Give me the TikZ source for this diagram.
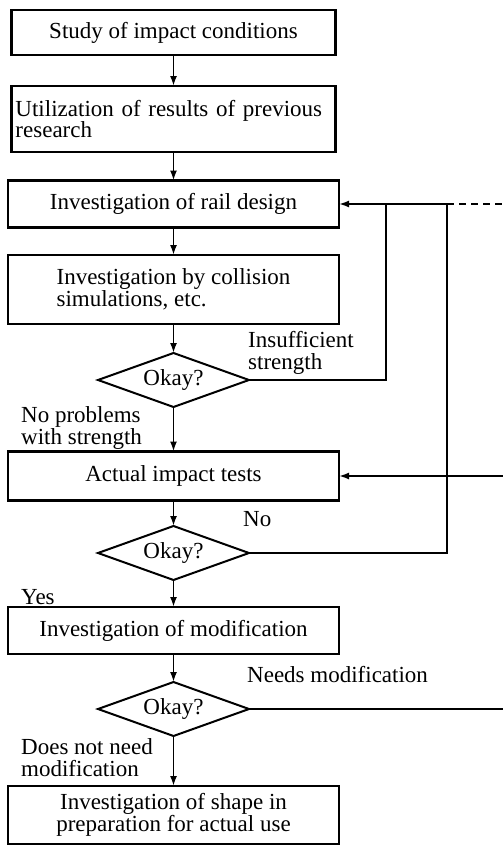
\documentclass[tikz,border=0pt]{standalone}
\usepackage{fontspec}
\setmainfont{Liberation Serif}
\usetikzlibrary{shapes.geometric,arrows.meta}
\begin{document}
\begin{tikzpicture}[x=1pt,y=-1pt,
  txt/.style={font=\fontsize{23}{22}\selectfont},
  box/.style={txt,draw,line width=2.2pt,inner xsep=4pt,inner ysep=0pt,minimum width=331pt,outer sep=0pt},
  dia/.style={txt,draw,shape=diamond,line width=2pt,aspect=2.8,minimum width=151pt,minimum height=54pt,inner sep=0pt,outer sep=0pt},
  ln/.style={line width=1.8pt},
  arr/.style={ln,-{Latex[length=10pt,width=7pt]}},
  lbl/.style={txt,anchor=west,inner sep=0pt,align=left}]
\useasboundingbox (0,0) rectangle (503,851);
\fill[white] (0,0) rectangle (503,851);
% boxes
\node[box,minimum width=324pt,minimum height=45pt] (b1) at (173.5,32.5) {Study of impact conditions};
\node[box,minimum width=324pt,minimum height=66pt,text width=316pt,align=left] (b2) at (173.5,119) {\raisebox{-3pt}{Utilization of results of previous}\\research};
\node[box,minimum height=47pt] (b3) at (173.5,204) {Investigation of rail design};
\node[box,minimum height=69pt,align=left] (b4) at (173.5,289.5) {Investigation by collision\\simulations, etc.};
\node[dia] (d1) at (173.5,380) {Okay?};
\node[box,minimum height=49pt] (b5) at (173.5,476) {Actual impact tests};
\node[dia] (d2) at (173.5,553) {Okay?};
\node[box,minimum height=47pt] (b6) at (173.5,630.5) {Investigation of modification};
\node[dia] (d3) at (173.5,709) {Okay?};
\node[box,minimum height=58pt,align=center] (b7) at (173.5,815) {Investigation of shape in\\preparation for actual use};
% labels
\node[lbl] (l1) at (248,353) {Insufficient\\strength};
\node[lbl] (l2) at (21,428) {No problems\\with strength};
\node[lbl] (l3) at (243,519) {No};
\node[lbl] (l4) at (21,597) {Yes};
\node[lbl] (l5) at (247,675) {Needs modification};
\node[lbl] (l6) at (21,758) {Does not need\\modification};
% junctions
\coordinate (j1) at (386,204);
\coordinate (j2) at (447,204);
\coordinate (e1) at (503,204);
\coordinate (e2) at (503,476);
\coordinate (e3) at (503,709);
% main column
\draw[arr] (b1) -- (b2);
\draw[arr] (b2) -- (b3);
\draw[arr] (b3) -- (b4);
\draw[arr] (b4) -- (d1);
\draw[arr] (d1) -- (b5);
\draw[arr] (b5) -- (d2);
\draw[arr] (d2) -- (b6);
\draw[arr] (b6) -- (d3);
\draw[arr] (d3) -- (b7);
% feedback
\draw[ln] (d1.east) -| (j1);
\draw[ln] (d2.east) -| (j2);
\draw[arr] (j2) -- (b3.east);
\draw[ln,dash pattern=on 7pt off 5pt] (j2) -- (e1);
\draw[arr] (e2) -- (b5.east);
\draw[ln] (d3.east) -- (e3);
\end{tikzpicture}
\end{document}
